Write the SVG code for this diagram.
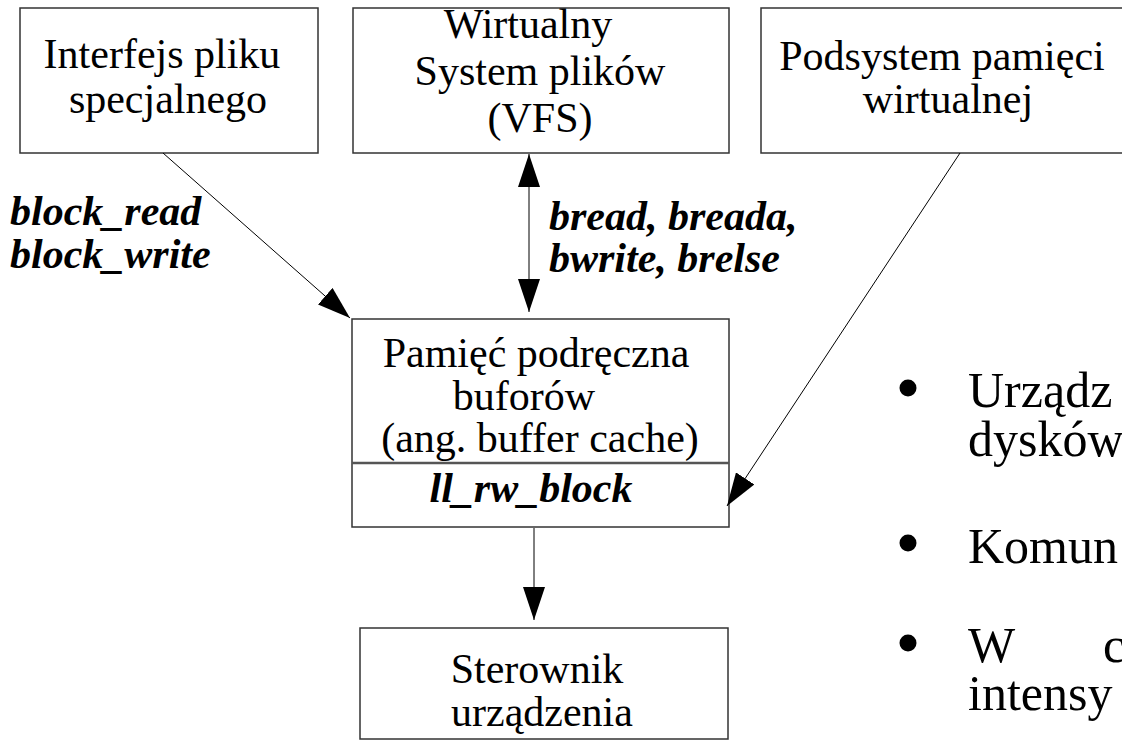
<svg xmlns="http://www.w3.org/2000/svg" width="1122" height="750" viewBox="0 0 1122 750">
<style>
.box{fill:#fff;stroke:#333;stroke-width:1.5}
.t{font-family:'Liberation Serif','Times New Roman',serif;font-size:42px;fill:#000;text-anchor:middle}
.bi{font-family:'Liberation Serif','Times New Roman',serif;font-size:42px;font-weight:bold;font-style:italic;fill:#000}
.big{font-family:'Liberation Serif','Times New Roman',serif;font-size:50px;fill:#000}
.c{stroke:#000;stroke-width:1;fill:none}
.dot{fill:#000}
</style>
<defs>
<marker id="ah" viewBox="0 0 33 22" refX="33" refY="11" markerWidth="33" markerHeight="22" markerUnits="userSpaceOnUse" orient="auto-start-reverse">
<path d="M0,0 L33,11 L0,22 Z" fill="#000"/>
</marker>
</defs>
<rect width="1122" height="750" fill="#fff"/>
<g id="node-interfejs">
<rect class="box" x="20" y="8" width="298" height="145"/>
<text class="t" x="162" y="68">Interfejs pliku</text>
<text class="t" x="168" y="113">specjalnego</text>
</g>
<g id="node-vfs">
<rect class="box" x="353" y="8" width="376" height="145"/>
<text class="t" x="528" y="38">Wirtualny</text>
<text class="t" x="540" y="85">System plików</text>
<text class="t" x="540" y="132">(VFS)</text>
</g>
<g id="node-podsystem">
<rect class="box" x="761" y="8" width="380" height="145"/>
<text class="t" x="942" y="70">Podsystem pamięci</text>
<text class="t" x="948" y="113">wirtualnej</text>
</g>
<g id="node-cache">
<rect class="box" x="352" y="319" width="377" height="208"/>
<line x1="352" y1="463" x2="729" y2="463" stroke="#555" stroke-width="2.5"/>
<text class="t" x="536" y="367">Pamięć podręczna</text>
<text class="t" x="524" y="410">buforów</text>
<text class="t" x="540" y="452">(ang. buffer cache)</text>
<text class="bi" x="531" y="502" text-anchor="middle">ll_rw_block</text>
</g>
<g id="node-sterownik">
<rect class="box" x="360" y="628" width="368" height="111"/>
<text class="t" x="537" y="683">Sterownik</text>
<text class="t" x="542" y="726">urządzenia</text>
</g>
<g id="connectors">
<line class="c" x1="163" y1="153" x2="350" y2="318" marker-end="url(#ah)"/>
<line class="c" x1="529" y1="154" x2="529" y2="312" marker-start="url(#ah)" marker-end="url(#ah)"/>
<line class="c" x1="960" y1="153" x2="727" y2="506" marker-end="url(#ah)"/>
<line class="c" x1="534" y1="528" x2="534" y2="620" marker-end="url(#ah)"/>
</g>
<g id="labels">
<text class="bi" x="10" y="225">block_read</text>
<text class="bi" x="10" y="268">block_write</text>
<text class="bi" x="549" y="230">bread, breada,</text>
<text class="bi" x="549" y="272">bwrite, brelse</text>
</g>
<g id="bullets">
<circle class="dot" cx="908" cy="388" r="8.5"/>
<text class="big" x="968" y="407">Urządz</text>
<text class="big" x="968" y="456">dysków</text>
<circle class="dot" cx="908" cy="543" r="8.5"/>
<text class="big" x="968" y="563">Komun</text>
<circle class="dot" cx="908" cy="643" r="8.5"/>
<text class="big" x="968" y="662">W</text>
<text class="big" x="1103" y="662">c</text>
<text class="big" x="968" y="710">intensy</text>
</g>
</svg>
